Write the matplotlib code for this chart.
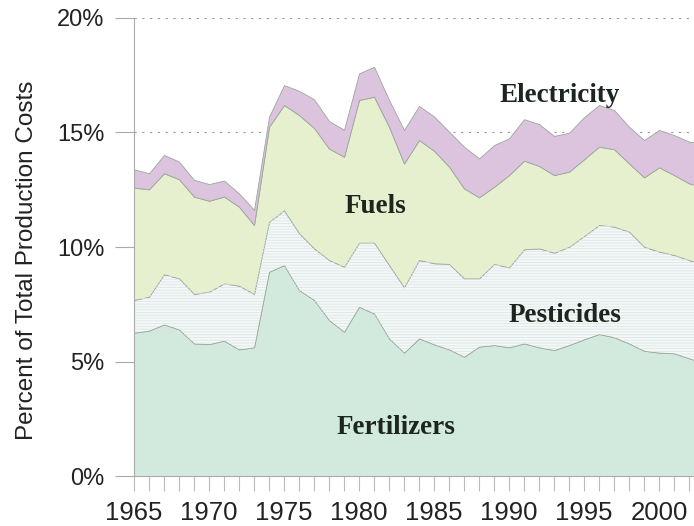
import matplotlib
matplotlib.use("Agg")
import matplotlib.pyplot as plt
import numpy as np

# share of total production costs (%)
years = list(range(1965, 2004))
fertilizers = [6.26, 6.35, 6.62, 6.40, 5.79, 5.76, 5.91, 5.53, 5.62, 8.92,
               9.21, 8.12, 7.69, 6.81, 6.30, 7.39, 7.10, 6.01, 5.39, 6.01,
               5.75, 5.53, 5.21, 5.65, 5.72, 5.62, 5.79, 5.62, 5.50, 5.72,
               5.97, 6.20, 6.06, 5.79, 5.47, 5.39, 5.36, 5.14, 4.95]
pesticides = [1.43, 1.48, 2.19, 2.23, 2.16, 2.29, 2.50, 2.78, 2.33, 2.18,
              2.39, 2.48, 2.25, 2.62, 2.84, 2.80, 3.09, 3.20, 2.85, 3.42,
              3.54, 3.73, 3.42, 2.98, 3.54, 3.49, 4.11, 4.32, 4.25, 4.29,
              4.51, 4.76, 4.83, 4.88, 4.54, 4.41, 4.29, 4.29, 4.25]
fuels = [4.90, 4.69, 4.41, 4.33, 4.25, 3.97, 3.79, 3.45, 3.01, 4.15,
         4.60, 5.16, 5.26, 4.87, 4.80, 6.23, 6.37, 6.04, 5.41, 5.24,
         4.91, 4.25, 3.93, 3.54, 3.37, 4.03, 3.87, 3.60, 3.39, 3.28,
         3.35, 3.42, 3.38, 2.98, 3.03, 3.68, 3.49, 3.35, 3.40]
electricity = [0.80, 0.70, 0.80, 0.77, 0.73, 0.73, 0.70, 0.58, 0.66, 0.44,
               0.87, 1.06, 1.25, 1.20, 1.18, 1.16, 1.31, 1.17, 1.46, 1.49,
               1.50, 1.53, 1.82, 1.70, 1.82, 1.61, 1.81, 1.83, 1.71, 1.70,
               1.84, 1.82, 1.71, 1.60, 1.63, 1.63, 1.75, 1.82, 1.90]

series_names = ["Fertilizers", "Pesticides", "Fuels", "Electricity"]
colors = ["#d2eadd", "#f4f8f7", "#e6f0cf", "#dcc3de"]
# (year, value) of each label's baseline centre
label_pos = [(1982.47, 1.83), (1993.73, 6.71), (1981.07, 11.47), (1993.37, 16.32)]

fig = plt.figure(figsize=(6.94, 5.26), dpi=100)
ax = fig.add_axes([0.1931, 0.095, 0.8069, 0.8708])

ax.stackplot(years, fertilizers, pesticides, fuels, electricity,
             colors=colors, edgecolor="#9aa79c", linewidth=0.6, zorder=2)

# horizontal line texture on the pesticides band
low = np.array(fertilizers)
high = low + np.array(pesticides)
plt.rcParams["hatch.linewidth"] = 0.6
ax.fill_between(years, low, high, facecolor="none", edgecolor="#dce7e8",
                hatch="------", linewidth=0, zorder=2.5)

for name, (x, y) in zip(series_names, label_pos):
    ax.text(x, y, name, ha="center", va="baseline", fontsize=19.5,
            fontweight="bold", family="Liberation Serif", color="#1c261e",
            zorder=5)

ax.set_xlim(1965, 2002.33)
ax.set_ylim(0, 20)
ax.set_yticks([0, 5, 10, 15, 20])
ax.set_yticklabels(["0%", "5%", "10%", "15%", "20%"])
ax.set_xticks(range(1965, 2003, 5))
ax.set_xticks(range(1965, 2003), minor=True)
ax.grid(axis="y", color="#999999", linestyle=(0, (2, 5)), linewidth=0.8,
        zorder=0)
ax.set_axisbelow(True)

for side in ["top", "right"]:
    ax.spines[side].set_visible(False)
ax.spines["left"].set_color("#aaaaaa")
ax.spines["bottom"].set_color("#aaaaaa")
ax.spines["left"].set_linewidth(0.8)
ax.spines["bottom"].set_linewidth(0.8)

ax.tick_params(axis="y", length=13.5, width=0.8, color="#aaaaaa", pad=8,
               labelsize=17, labelcolor="#222222")
ax.tick_params(axis="x", which="both", length=11, width=0.8,
               color="#bbbbbb", pad=7, labelsize=18.5, labelcolor="#222222")
for lab in ax.get_xticklabels() + ax.get_yticklabels():
    lab.set_family("Liberation Sans")

ax.set_ylabel("Percent of Total Production Costs", fontsize=17.5,
              family="Liberation Sans", color="#222222")
ax.yaxis.set_label_coords(-0.172, 0.4716)

fig.savefig("out.png", dpi=100)
